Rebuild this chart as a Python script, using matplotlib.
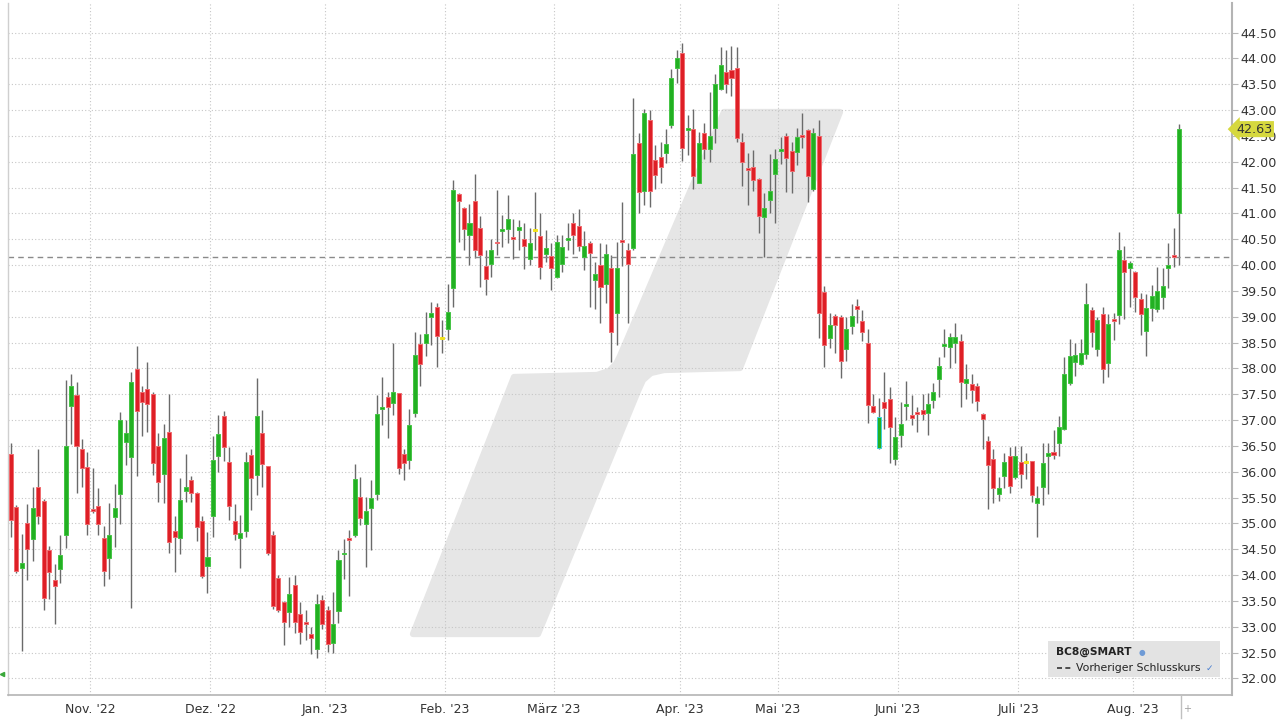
import matplotlib
matplotlib.use("Agg")
import matplotlib.pyplot as plt
from matplotlib.patches import Polygon, Rectangle
from matplotlib.lines import Line2D
import numpy as np

# ---------------- data (daily OHLC, mid Oct 2022 .. mid Aug 2023) ----------------
opens = [
    # Oct
    36.35, 35.32, 34.13, 35.00, 34.70, 35.71, 35.44, 34.49, 33.91, 34.12, 34.77, 37.28, 37.49, 36.44, 36.09,
    # Nov
    35.27, 35.34, 34.71, 34.33, 35.13, 35.56, 36.58, 36.29, 37.98, 37.55, 37.61, 37.50, 36.49, 35.96, 36.76,
    34.86, 34.72, 35.63, 35.84, 35.59, 35.05, 34.17,
    # Dec
    35.14, 36.30, 37.07, 36.19, 35.05, 34.72, 34.85, 36.32, 35.93, 36.75, 36.11, 34.77, 33.95, 33.48, 33.29,
    33.80, 33.24, 33.07, 32.85, 32.56, 33.51,
    # Jan
    33.33, 32.69, 33.31, 34.40, 34.71, 34.78, 35.51, 34.99, 35.29, 35.56, 37.21, 37.44, 37.32, 37.53, 36.34,
    36.22, 37.14, 38.47, 38.50, 39.00, 39.19, 38.57,
    # Feb
    38.76, 39.55, 41.37, 41.10, 40.58, 41.23, 40.71, 39.98, 40.01, 40.45, 40.65, 40.70, 40.54, 40.68, 40.50,
    40.12, 40.66, 40.56, 40.21, 40.17,
    # Mar
    39.77, 40.02, 40.48, 40.81, 40.76, 40.15, 40.43, 39.71, 40.00, 39.64, 39.95, 39.08, 40.48, 40.29, 40.32,
    42.37, 41.44, 42.81, 42.03, 42.10, 42.17, 42.71, 43.81,
    # Apr
    44.11, 42.61, 42.64, 41.59, 42.55, 42.24, 42.66, 43.40, 43.74, 43.77, 43.82, 42.39, 41.86, 41.89, 41.66,
    40.92, 41.26, 41.77,
    # May
    42.21, 42.50, 42.21, 42.19, 42.51, 42.61, 41.48, 42.50, 39.48, 38.58, 39.02, 39.00, 38.37, 38.81, 39.20,
    38.92, 38.50, 37.27, 36.45, 37.34, 37.40, 36.24,
    # Jun
    36.71, 37.28, 37.10, 37.16, 37.19, 37.14, 37.39, 37.79, 38.43, 38.41, 38.50, 38.52, 37.71, 37.69, 37.66,
    37.11, 36.60, 36.24, 35.56, 35.92, 36.30, 35.89,
    # Jul
    36.19, 36.17, 36.21, 35.39, 35.71, 36.30, 36.39, 36.56, 36.82, 37.72, 38.12, 38.08, 38.27, 39.13, 38.37,
    39.06, 38.11, 38.95, 39.03, 40.10, 39.94,
    # Aug
    39.87, 39.34, 38.73, 39.16, 39.15, 39.39, 39.94, 40.20, 41.01,
]
highs = [
    36.56, 35.35, 34.79, 35.37, 35.71, 36.44, 35.48, 34.56, 34.21, 34.77, 37.78, 37.90, 37.73, 36.64, 36.38,
    36.07, 35.69, 34.95, 35.40, 35.77, 37.16, 37.00, 37.93, 38.43, 37.65, 38.13, 37.55, 36.74, 36.93, 37.50,
    35.14, 35.87, 36.34, 35.92, 35.61, 35.14, 34.84,
    36.69, 37.09, 37.18, 36.48, 35.37, 35.16, 36.38, 36.43, 37.82, 37.20, 36.11, 34.85, 34.00, 33.50, 33.96,
    34.00, 33.48, 33.32, 33.00, 33.64, 33.61,
    33.40, 33.67, 34.49, 34.69, 34.88, 36.15, 35.89, 35.51, 35.83, 37.48, 37.83, 37.55, 38.49, 37.53, 36.43,
    37.22, 38.71, 38.66, 39.10, 39.29, 39.27, 38.94,
    39.64, 41.65, 41.39, 41.13, 41.19, 41.77, 40.95, 40.29, 40.50, 41.45, 40.97, 41.35, 40.89, 40.87, 40.81,
    40.71, 41.42, 41.00, 40.68, 40.43,
    40.58, 40.58, 40.81, 41.01, 41.08, 40.65, 40.47, 40.06, 40.42, 40.40, 40.19, 40.45, 41.21, 40.42, 43.24,
    42.55, 43.01, 43.00, 42.32, 42.39, 42.64, 43.79, 44.16,
    44.29, 42.90, 43.01, 42.58, 42.75, 43.35, 43.69, 44.21, 44.17, 44.24, 44.22, 42.56, 42.16, 42.23, 41.68,
    41.40, 42.15, 42.24,
    42.48, 42.55, 42.39, 42.65, 42.95, 42.63, 42.65, 42.81, 39.59, 39.08, 39.05, 39.03, 39.00, 39.24, 39.34,
    39.12, 38.76, 37.50, 37.42, 37.92, 37.63, 37.05,
    37.35, 37.76, 37.48, 37.26, 37.50, 37.52, 37.72, 38.21, 38.77, 38.69, 38.87, 38.66, 38.08, 37.89, 37.72,
    37.13, 36.69, 36.43, 35.90, 36.37, 36.48, 36.50,
    36.50, 36.37, 36.21, 35.72, 36.56, 36.55, 36.81, 37.08, 38.21, 38.56, 38.50, 38.56, 39.65, 39.18, 39.00,
    39.18, 39.06, 39.08, 40.64, 40.37, 40.08,
    39.89, 39.45, 39.44, 39.61, 39.97, 39.95, 40.42, 40.72, 42.73,
]
lows = [
    34.74, 34.03, 32.53, 33.90, 34.27, 34.98, 33.33, 33.54, 33.05, 33.85, 34.53, 36.53, 35.58, 35.71, 34.77,
    35.20, 34.77, 33.78, 33.92, 34.55, 34.99, 36.12, 33.36, 35.92, 36.69, 36.77, 35.93, 35.42, 35.40, 34.42,
    34.06, 34.40, 35.42, 35.42, 34.66, 33.95, 33.65,
    34.73, 36.00, 36.21, 35.06, 34.67, 34.13, 34.74, 35.25, 35.55, 35.71, 34.38, 33.35, 33.29, 32.64, 32.99,
    32.87, 32.67, 32.75, 32.48, 32.40, 32.96,
    32.51, 32.49, 33.07, 33.93, 33.59, 34.73, 34.96, 34.16, 34.49, 35.45, 36.90, 36.66, 37.09, 35.96, 35.84,
    36.06, 37.06, 37.65, 38.23, 38.45, 38.03, 38.30,
    38.55, 39.19, 40.45, 40.29, 40.00, 40.13, 39.58, 39.42, 39.76, 40.19, 40.35, 40.42, 40.12, 40.30, 39.92,
    40.00, 40.30, 39.72, 40.06, 39.52,
    39.74, 39.87, 40.30, 40.21, 40.28, 39.90, 39.19, 39.14, 38.87, 39.27, 38.13, 38.45, 39.98, 38.87, 40.29,
    41.01, 41.16, 41.13, 41.48, 41.59, 41.97, 42.66, 43.53,
    42.02, 42.13, 41.48, 41.58, 42.06, 42.00, 42.37, 43.39, 43.32, 43.27, 42.39, 41.52, 41.16, 41.44, 40.61,
    40.16, 41.01, 40.81,
    41.95, 41.42, 41.40, 41.94, 42.26, 41.21, 41.44, 38.58, 38.03, 38.39, 38.29, 37.81, 38.15, 38.66, 38.87,
    38.52, 36.95, 37.14, 36.43, 36.82, 36.16, 36.13,
    36.48, 37.00, 36.90, 36.76, 37.00, 36.71, 37.23, 37.45, 38.21, 38.00, 38.11, 37.25, 37.40, 37.32, 37.18,
    36.43, 35.27, 35.40, 35.44, 35.68, 35.58, 35.85,
    35.68, 35.85, 35.42, 34.73, 35.36, 35.57, 36.24, 36.30, 36.81, 37.68, 37.85, 38.06, 38.19, 38.42, 38.23,
    37.72, 37.84, 38.55, 38.86, 38.95, 39.19,
    39.10, 38.64, 38.24, 38.92, 39.10, 39.15, 39.55, 39.97, 40.00,
]
closes = [
    35.07, 34.08, 34.23, 34.50, 35.30, 35.14, 33.56, 34.06, 33.78, 34.38, 36.49, 37.65, 36.49, 36.07, 34.99,
    35.24, 34.99, 34.08, 34.77, 35.30, 37.00, 36.74, 37.73, 37.18, 37.35, 37.31, 36.16, 35.80, 36.65, 34.63,
    34.74, 35.45, 35.71, 35.59, 34.93, 33.99, 34.35,
    36.22, 36.73, 36.47, 35.34, 34.80, 34.82, 36.18, 35.88, 37.07, 36.14, 34.43, 33.40, 33.33, 33.09, 33.63,
    33.09, 32.90, 33.05, 32.78, 33.43, 33.06,
    32.67, 33.06, 34.30, 34.43, 34.68, 35.85, 35.11, 35.24, 35.49, 37.11, 37.23, 37.26, 37.55, 36.08, 36.17,
    36.90, 38.26, 38.08, 38.66, 39.08, 38.63, 38.57,
    39.10, 41.45, 41.23, 40.70, 40.81, 40.29, 40.19, 39.73, 40.29, 40.42, 40.70, 40.89, 40.50, 40.73, 40.37,
    40.43, 40.66, 39.97, 40.32, 39.94,
    40.44, 40.34, 40.51, 40.58, 40.37, 40.37, 40.23, 39.82, 39.57, 40.21, 38.71, 39.94, 40.45, 40.01, 42.15,
    41.42, 42.95, 41.43, 41.74, 41.89, 42.35, 43.61, 44.00,
    42.26, 42.64, 41.72, 42.37, 42.24, 42.50, 43.50, 43.88, 43.50, 43.61, 42.45, 42.00, 41.84, 41.65, 40.94,
    41.10, 41.44, 42.05,
    42.24, 42.08, 41.81, 42.47, 42.48, 41.72, 42.56, 39.08, 38.45, 38.84, 38.84, 38.15, 38.77, 39.01, 39.15,
    38.71, 37.29, 37.16, 37.05, 37.24, 36.86, 36.68,
    36.92, 37.30, 37.04, 37.12, 37.12, 37.31, 37.54, 38.05, 38.45, 38.61, 38.61, 37.74, 37.79, 37.58, 37.36,
    37.02, 36.13, 35.68, 35.69, 36.19, 35.72, 36.30,
    35.96, 36.17, 35.55, 35.50, 36.16, 36.37, 36.32, 36.87, 37.90, 38.23, 38.25, 38.30, 39.25, 38.71, 38.94,
    37.98, 38.86, 38.92, 40.29, 39.87, 40.03,
    39.39, 39.06, 39.16, 39.40, 39.50, 39.59, 40.00, 40.15, 42.63,
]

month_labels = ["Nov. '22", "Dez. '22", "Jan. '23", "Feb. '23", "März '23", "Apr. '23",
                "Mai '23", "Juni '23", "Juli '23", "Aug. '23"]
month_first_idx = [15, 37, 58, 80, 100, 123, 141, 163, 185, 206]
y_ticks = [32.0, 32.5, 33.0, 33.5, 34.0, 34.5, 35.0, 35.5, 36.0, 36.5, 37.0, 37.5, 38.0,
           38.5, 39.0, 39.5, 40.0, 40.5, 41.0, 41.5, 42.0, 42.5, 43.0, 43.5, 44.0, 44.5]
legend_title = "BC8@SMART"
legend_item = "Vorheriger Schlusskurs"
highlight_idx = 159

# ---------------- figure ----------------
W, H = 1280, 720
fig = plt.figure(figsize=(12.8, 7.2), dpi=100)
fig.patch.set_facecolor("white")
ax = fig.add_axes([8 / W, 1 - 695 / H, (1232 - 8) / W, (695 - 3) / H])
ax.set_xlim(-0.55, 223.7)
ax.set_ylim(31.678, 45.071)

GREEN = "#22b022"
RED = "#de1f26"
YELLOW = "#f2e21c"

# watermark logo (pixel coordinates -> figure fraction)
logo_px = [(724, 112), (840, 112), (740, 368), (664, 370), (651, 373), (643, 380), (638, 391),
           (538, 634), (413, 634), (514, 377), (597, 375), (609, 371), (616, 364), (620, 356)]
logo = Polygon([(x / W, 1 - y / H) for x, y in logo_px], closed=True, transform=fig.transFigure,
               facecolor="#e6e6e6", edgecolor="#e6e6e6", linewidth=4.5, joinstyle="round", zorder=0.3)
ax.add_patch(logo)

# grid
ax.set_axisbelow(True)
ax.yaxis.tick_right()
ax.set_yticks(y_ticks)
ax.set_yticklabels([f"{v:.2f}" for v in y_ticks])
ax.set_xticks([i - 0.5 for i in month_first_idx])
ax.set_xticklabels(month_labels)
ax.grid(True, color="#c6c6c6", linestyle=(0, (1, 2)), linewidth=0.8)
ax.tick_params(axis="y", length=4, color="#b8b8b8", pad=2, labelsize=9.2, labelcolor="#333333")
ax.tick_params(axis="x", length=0, pad=6, labelsize=9, labelcolor="#333333")
ax.spines["top"].set_visible(False)
ax.spines["left"].set_color("#cfcfcf")
ax.spines["left"].set_linewidth(1.0)
ax.spines["right"].set_color("#b4b4b4")
ax.spines["right"].set_linewidth(1.5)
ax.spines["bottom"].set_color("#b4b4b4")
ax.spines["bottom"].set_linewidth(1.2)

# candles
n = len(closes)
x = np.arange(n)
o = np.array(opens)
c = np.array(closes)
hi = np.array(highs)
lo = np.array(lows)
face = []
edge = []
for i in range(n):
    if c[i] > o[i]:
        face.append(GREEN); edge.append("#45c445")
    elif c[i] < o[i]:
        face.append(RED); edge.append("#f06a6e")
    else:
        face.append(YELLOW); edge.append(YELLOW)
edge[highlight_idx] = "#3fd0dc"
ax.vlines(x, lo, hi, colors="#6a6a6a", linewidth=1.0, zorder=2)
body_bottom = np.minimum(o, c)
body_height = np.maximum(np.abs(c - o), 0.035)
ax.bar(x, body_height, bottom=body_bottom, width=0.74, color=face, edgecolor=edge,
       linewidth=0.7, zorder=3)

# previous close line
prev_close = closes[-2]
ax.axhline(prev_close, color="#8a8a8a", linestyle=(0, (4, 3)), linewidth=1.0, zorder=2.5)

# last price tag
ax.annotate(f"{closes[-1]:.2f}", xy=(1, closes[-1]), xycoords=("axes fraction", "data"),
            xytext=(3, 0), textcoords="offset points", ha="left", va="center",
            fontsize=9.2, color="#333333", annotation_clip=False, zorder=10,
            bbox=dict(boxstyle="larrow,pad=0.12", fc="#d6d83e", ec="none"))

# legend box
fig.add_artist(Rectangle((1048 / W, 1 - 677 / H), 172 / W, 36 / H, transform=fig.transFigure,
                         facecolor="#e3e3e3", edgecolor="none", zorder=5))
fig.text(1056 / W, 1 - 652 / H, legend_title, fontsize=7.7, fontweight="bold", color="#222222",
         va="center", ha="left", zorder=6)
fig.text(1142 / W, 1 - 652 / H, "\u25cf", fontsize=5.5, color="#6f9bd6", va="center", ha="center", zorder=6)
fig.add_artist(Line2D([1057 / W, 1072 / W], [1 - 668 / H, 1 - 668 / H], transform=fig.transFigure,
                      color="#333333", linewidth=1.2, linestyle=(0, (3, 2)), zorder=6))
fig.text(1076 / W, 1 - 668 / H, legend_item, fontsize=7.8, color="#222222", va="center", ha="left", zorder=6)
fig.text(1209 / W, 1 - 668 / H, "\u2713", fontsize=6.5, color="#4a7fd0", va="center", ha="center", zorder=6)

# small decorations at the axis edges
fig.add_artist(Line2D([1181 / W, 1181 / W], [1 - 695 / H, 1 - 718 / H], transform=fig.transFigure,
                      color="#c0c0c0", linewidth=1.0))
fig.text(1187 / W, 1 - 709 / H, "+", fontsize=7, color="#a0a0a0", va="center", ha="center")
fig.add_artist(Line2D([2 / W], [1 - 674 / H], transform=fig.transFigure, marker="<", markersize=3,
                      color="#3aa83a", linestyle="none"))

fig.savefig("out.png", dpi=100, facecolor="white")
